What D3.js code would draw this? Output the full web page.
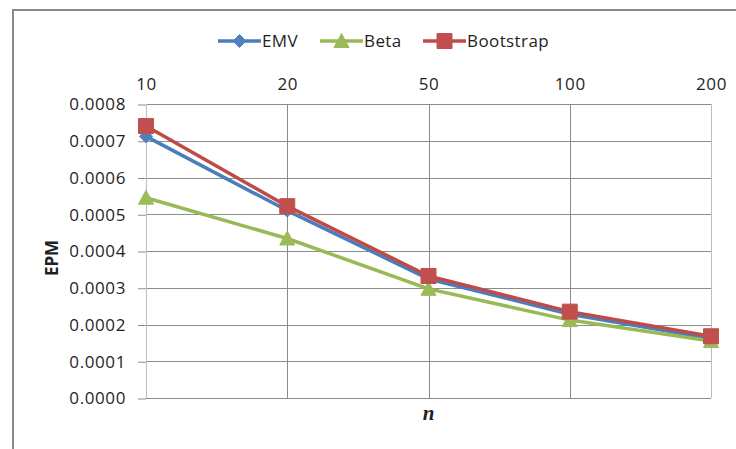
<!DOCTYPE html>
<html>
<head>
<meta charset="utf-8">
<script src="https://cdn.jsdelivr.net/npm/d3@7/dist/d3.min.js"></script>
<style>
  html, body { margin: 0; padding: 0; background: #fff; }
  svg { display: block; }
  text { font-family: "Open Sans", "Noto Sans", sans-serif; fill: #1f1f1f; }
</style>
</head>
<body>
<svg id="chart" width="736" height="449"></svg>
<script>
// Sample sizes on the category axis
const categories = ["10", "20", "50", "100", "200"];

// EPM per estimator
const emv       = [0.000712, 0.000510, 0.000324, 0.000228, 0.000162];
const beta      = [0.000545, 0.000434, 0.000297, 0.000212, 0.000155];
const bootstrap = [0.000740, 0.000522, 0.000332, 0.000235, 0.000168];

// Value axis ticks
const yTicks = [0, 0.0001, 0.0002, 0.0003, 0.0004, 0.0005, 0.0006, 0.0007, 0.0008];

const seriesNames = ["EMV", "Beta", "Bootstrap"];

const series = [
  { name: seriesNames[0], values: emv,       line: "#4a7ebb", fill: "#4f81bd", marker: "diamond" },
  { name: seriesNames[1], values: beta,      line: "#98b954", fill: "#9bbb59", marker: "triangle" },
  { name: seriesNames[2], values: bootstrap, line: "#be4b48", fill: "#c0504d", marker: "square" }
];

const svg = d3.select("#chart");

const plot = { left: 146, right: 711, top: 104, bottom: 398 };

const x = d3.scalePoint().domain(categories).range([plot.left, plot.right]).padding(0);
const y = d3.scaleLinear().domain([0, 0.0008]).range([plot.bottom, plot.top]);

// Outer chart frame (top and left edges)
svg.append("path")
  .attr("d", "M13,449V10H736")
  .attr("fill", "none")
  .attr("stroke", "#8a8a8a")
  .attr("stroke-width", 2);

// Horizontal gridlines
svg.append("g")
  .selectAll("line")
  .data(yTicks)
  .join("line")
  .attr("x1", plot.left).attr("x2", plot.right)
  .attr("y1", d => Math.round(y(d)) + 0.5).attr("y2", d => Math.round(y(d)) + 0.5)
  .attr("stroke", "#8c8c8c").attr("stroke-width", 1);

// Vertical gridlines at each category
svg.append("g")
  .selectAll("line")
  .data(categories)
  .join("line")
  .attr("x1", d => Math.round(x(d)) + 0.5).attr("x2", d => Math.round(x(d)) + 0.5)
  .attr("y1", plot.top).attr("y2", plot.bottom)
  .attr("stroke", (d, i) => (i === 0 || i === categories.length - 1) ? "#bdbdbd" : "#8c8c8c")
  .attr("stroke-width", 1);

// Value axis (ticks and labels on the left)
const yAxis = svg.append("g")
  .attr("transform", `translate(${plot.left},0.5)`)
  .call(d3.axisLeft(y).tickValues(yTicks).tickFormat(d3.format(".4f")).tickSize(8).tickPadding(12));
yAxis.select(".domain").remove();
yAxis.selectAll(".tick line").attr("stroke", "#8c8c8c");
yAxis.selectAll(".tick text")
  .style("font-family", "'Open Sans', sans-serif")
  .style("font-size", "17px")
  .style("letter-spacing", "0.6px")
  .attr("fill", "#1f1f1f");

// Category axis across the top
const xAxis = svg.append("g")
  .attr("transform", `translate(0,${plot.top})`)
  .call(d3.axisTop(x).tickSize(0).tickPadding(14));
xAxis.select(".domain").remove();
xAxis.selectAll(".tick text")
  .style("font-family", "'Open Sans', sans-serif")
  .style("font-size", "17px")
  .style("letter-spacing", "0.6px")
  .attr("fill", "#1f1f1f");

// Axis titles
svg.append("text")
  .attr("transform", `translate(58,${(plot.top + plot.bottom) / 2 + 7}) rotate(-90)`)
  .attr("text-anchor", "middle")
  .style("font-family", "'Open Sans', sans-serif")
  .style("font-weight", "bold")
  .style("font-size", "17px")
  .text("EPM");

svg.append("text")
  .attr("x", x("50"))
  .attr("y", 420)
  .attr("text-anchor", "middle")
  .style("font-family", "'Liberation Serif', serif")
  .style("font-weight", "bold")
  .style("font-style", "italic")
  .style("font-size", "21px")
  .text("n");

// Marker shapes, centred on the origin
function markerPath(kind) {
  if (kind === "diamond") {
    const r = 6.5;
    return `M0,${-r}L${r},0L0,${r}L${-r},0Z`;
  }
  if (kind === "triangle") {
    const w = 7.5, h = 13;
    return `M0,${-h / 2 - 1}L${w},${h / 2}L${-w},${h / 2}Z`;
  }
  const s = 7.5;
  return `M${-s},${-s}H${s}V${s}H${-s}Z`;
}

const line = d3.line()
  .x((d, i) => x(categories[i]))
  .y(d => y(d));

// Series lines and markers
series.forEach(s => {
  const g = svg.append("g");
  g.append("path")
    .datum(s.values)
    .attr("d", line)
    .attr("fill", "none")
    .attr("stroke", s.line)
    .attr("stroke-width", 3.5)
    .attr("stroke-linejoin", "round")
    .attr("stroke-linecap", "round");
  g.selectAll("path.marker")
    .data(s.values)
    .join("path")
    .attr("class", "marker")
    .attr("transform", (d, i) => `translate(${x(categories[i])},${y(d)})`)
    .attr("d", markerPath(s.marker))
    .attr("fill", s.fill)
    .attr("stroke", s.fill)
    .attr("stroke-width", 1);
});

// Legend
const legendItems = [
  { s: series[0], x0: 218 },
  { s: series[1], x0: 320 },
  { s: series[2], x0: 423 }
];
const legendY = 41;
const legend = svg.append("g");
legendItems.forEach(item => {
  const g = legend.append("g");
  g.append("line")
    .attr("x1", item.x0).attr("x2", item.x0 + 43)
    .attr("y1", legendY).attr("y2", legendY)
    .attr("stroke", item.s.line).attr("stroke-width", 3.5);
  g.append("path")
    .attr("transform", `translate(${item.x0 + 21.5},${legendY})`)
    .attr("d", markerPath(item.s.marker))
    .attr("fill", item.s.fill)
    .attr("stroke", item.s.fill);
  g.append("text")
    .attr("x", item.x0 + 44)
    .attr("y", legendY)
    .attr("dy", "0.35em")
    .style("font-family", "'Open Sans', sans-serif")
    .style("font-size", "17px")
    .style("letter-spacing", "0.4px")
    .text(item.s.name);
});
</script>
</body>
</html>
